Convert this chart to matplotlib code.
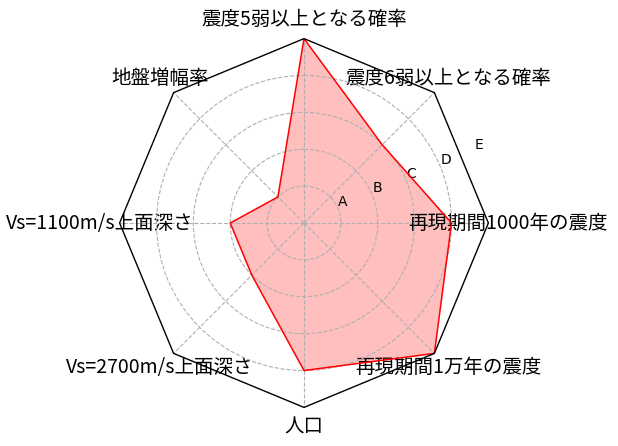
import numpy as np
import matplotlib
matplotlib.use('Agg')
import matplotlib.pyplot as plt
from matplotlib.projections.polar import PolarAxes
from matplotlib.projections import register_projection
from matplotlib.patches import RegularPolygon
from matplotlib.path import Path
from matplotlib.spines import Spine
from matplotlib.transforms import Affine2D

plt.rcParams['font.family'] = ['Noto Sans CJK JP', 'DejaVu Sans']

categories = ['震度5弱以上となる確率', '震度6弱以上となる確率', '再現期間1000年の震度',
              '再現期間1万年の震度', '人口', 'Vs=2700m/s上面深さ', 'Vs=1100m/s上面深さ', '地盤増幅率']
values = [5, 3, 4, 5, 4, 2, 2, 1]
rank_levels = [1, 2, 3, 4, 5]
rank_labels = ['A', 'B', 'C', 'D', 'E']

N = len(categories)


class OctRadarAxes(PolarAxes):
    name = 'octradar'

    def _gen_axes_patch(self):
        return RegularPolygon((0.5, 0.5), N, radius=0.5, edgecolor='k')

    def _gen_axes_spines(self):
        spine = Spine(axes=self, spine_type='circle', path=Path.unit_regular_polygon(N))
        spine.set_transform(Affine2D().scale(0.5).translate(0.5, 0.5) + self.transAxes)
        return {'polar': spine}


register_projection(OctRadarAxes)

theta = np.linspace(0, 2 * np.pi, N, endpoint=False)

fig = plt.figure(figsize=(6.18, 4.46), dpi=100)
ax = fig.add_axes([0.1935, 0.0865, 0.5968, 0.8269], projection='octradar')
ax.set_theta_zero_location('N')
ax.set_theta_direction(-1)

ax.plot(np.append(theta, theta[0]), values + [values[0]], color='red', lw=1.1)
ax.fill(theta, values, facecolor='red', alpha=0.25, edgecolor='none')

ax.set_ylim(0, 5)
ax.set_rgrids(rank_levels, rank_labels, angle=67.5, family='DejaVu Sans', fontsize=10)
ax.set_thetagrids(np.degrees(theta), categories, fontsize=14)
ax.grid(True, linestyle='--', color='#b0b0b0', lw=0.8)
ax.spines['polar'].set_linewidth(1.0)

fig.savefig('out.png', dpi=100)
